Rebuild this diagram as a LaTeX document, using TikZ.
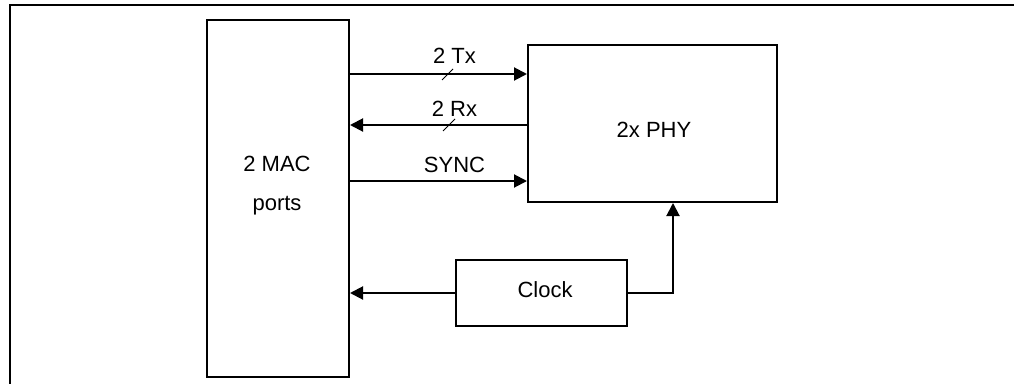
\documentclass[tikz,border=0pt]{standalone}
\usepackage{fontspec}
\setmainfont{Liberation Sans}
\usetikzlibrary{arrows.meta}
\begin{document}
\begin{tikzpicture}[x=1pt,y=-1pt,
  box/.style={draw,line width=2pt,inner sep=0pt},
  lbl/.style={font=\fontsize{22}{24}\selectfont,inner sep=0pt,anchor=base},
  conn/.style={line width=2pt,-{Triangle[length=13pt,width=13pt]}},
  bus/.style={line width=1pt}]
\useasboundingbox (0,0) rectangle (1014,383);
\draw[line width=2pt] (10,390) -- (10,5) -- (1020,5);
\node[box,minimum width=142pt,minimum height=357pt] (mac) at (278,198.5) {};
\node[lbl] at (277,171) {2 MAC};
\node[lbl] at (277,210) {ports};
\node[box,minimum width=249pt,minimum height=157pt] (phy) at (652.5,123.5) {};
\node[lbl] at (654,137) {2x PHY};
\node[box,minimum width=171pt,minimum height=66pt] (clk) at (541.5,293) {};
\node[lbl] at (545,297) {Clock};
\coordinate (tx0) at (mac.east |- 0,74);
\coordinate (tx1) at (phy.west |- 0,74);
\draw[conn] (tx0) -- (tx1);
\coordinate (rx0) at (phy.west |- 0,125);
\coordinate (rx1) at (mac.east |- 0,125);
\draw[conn] (rx0) -- (rx1);
\coordinate (sy0) at (mac.east |- 0,181);
\coordinate (sy1) at (phy.west |- 0,181);
\draw[conn] (sy0) -- (sy1);
\node[lbl] (ltx) at (454.5,63) {2 Tx};
\node[lbl] (lrx) at (454.5,116) {2 Rx};
\node[lbl] (lsy) at (454.5,172) {SYNC};
\coordinate (s1a) at (442,80); \coordinate (s1b) at (453,69);
\draw[bus] (s1a) -- (s1b);
\coordinate (s2a) at (443,131); \coordinate (s2b) at (455,119);
\draw[bus] (s2a) -- (s2b);
\coordinate (ck1) at (mac.east |- clk.west);
\draw[conn] (clk.west) -- (ck1);
\coordinate (bend) at (673,0 |- clk.east);
\draw[conn] (clk.east) -- (bend) -- (bend |- phy.south);
\end{tikzpicture}
\end{document}
